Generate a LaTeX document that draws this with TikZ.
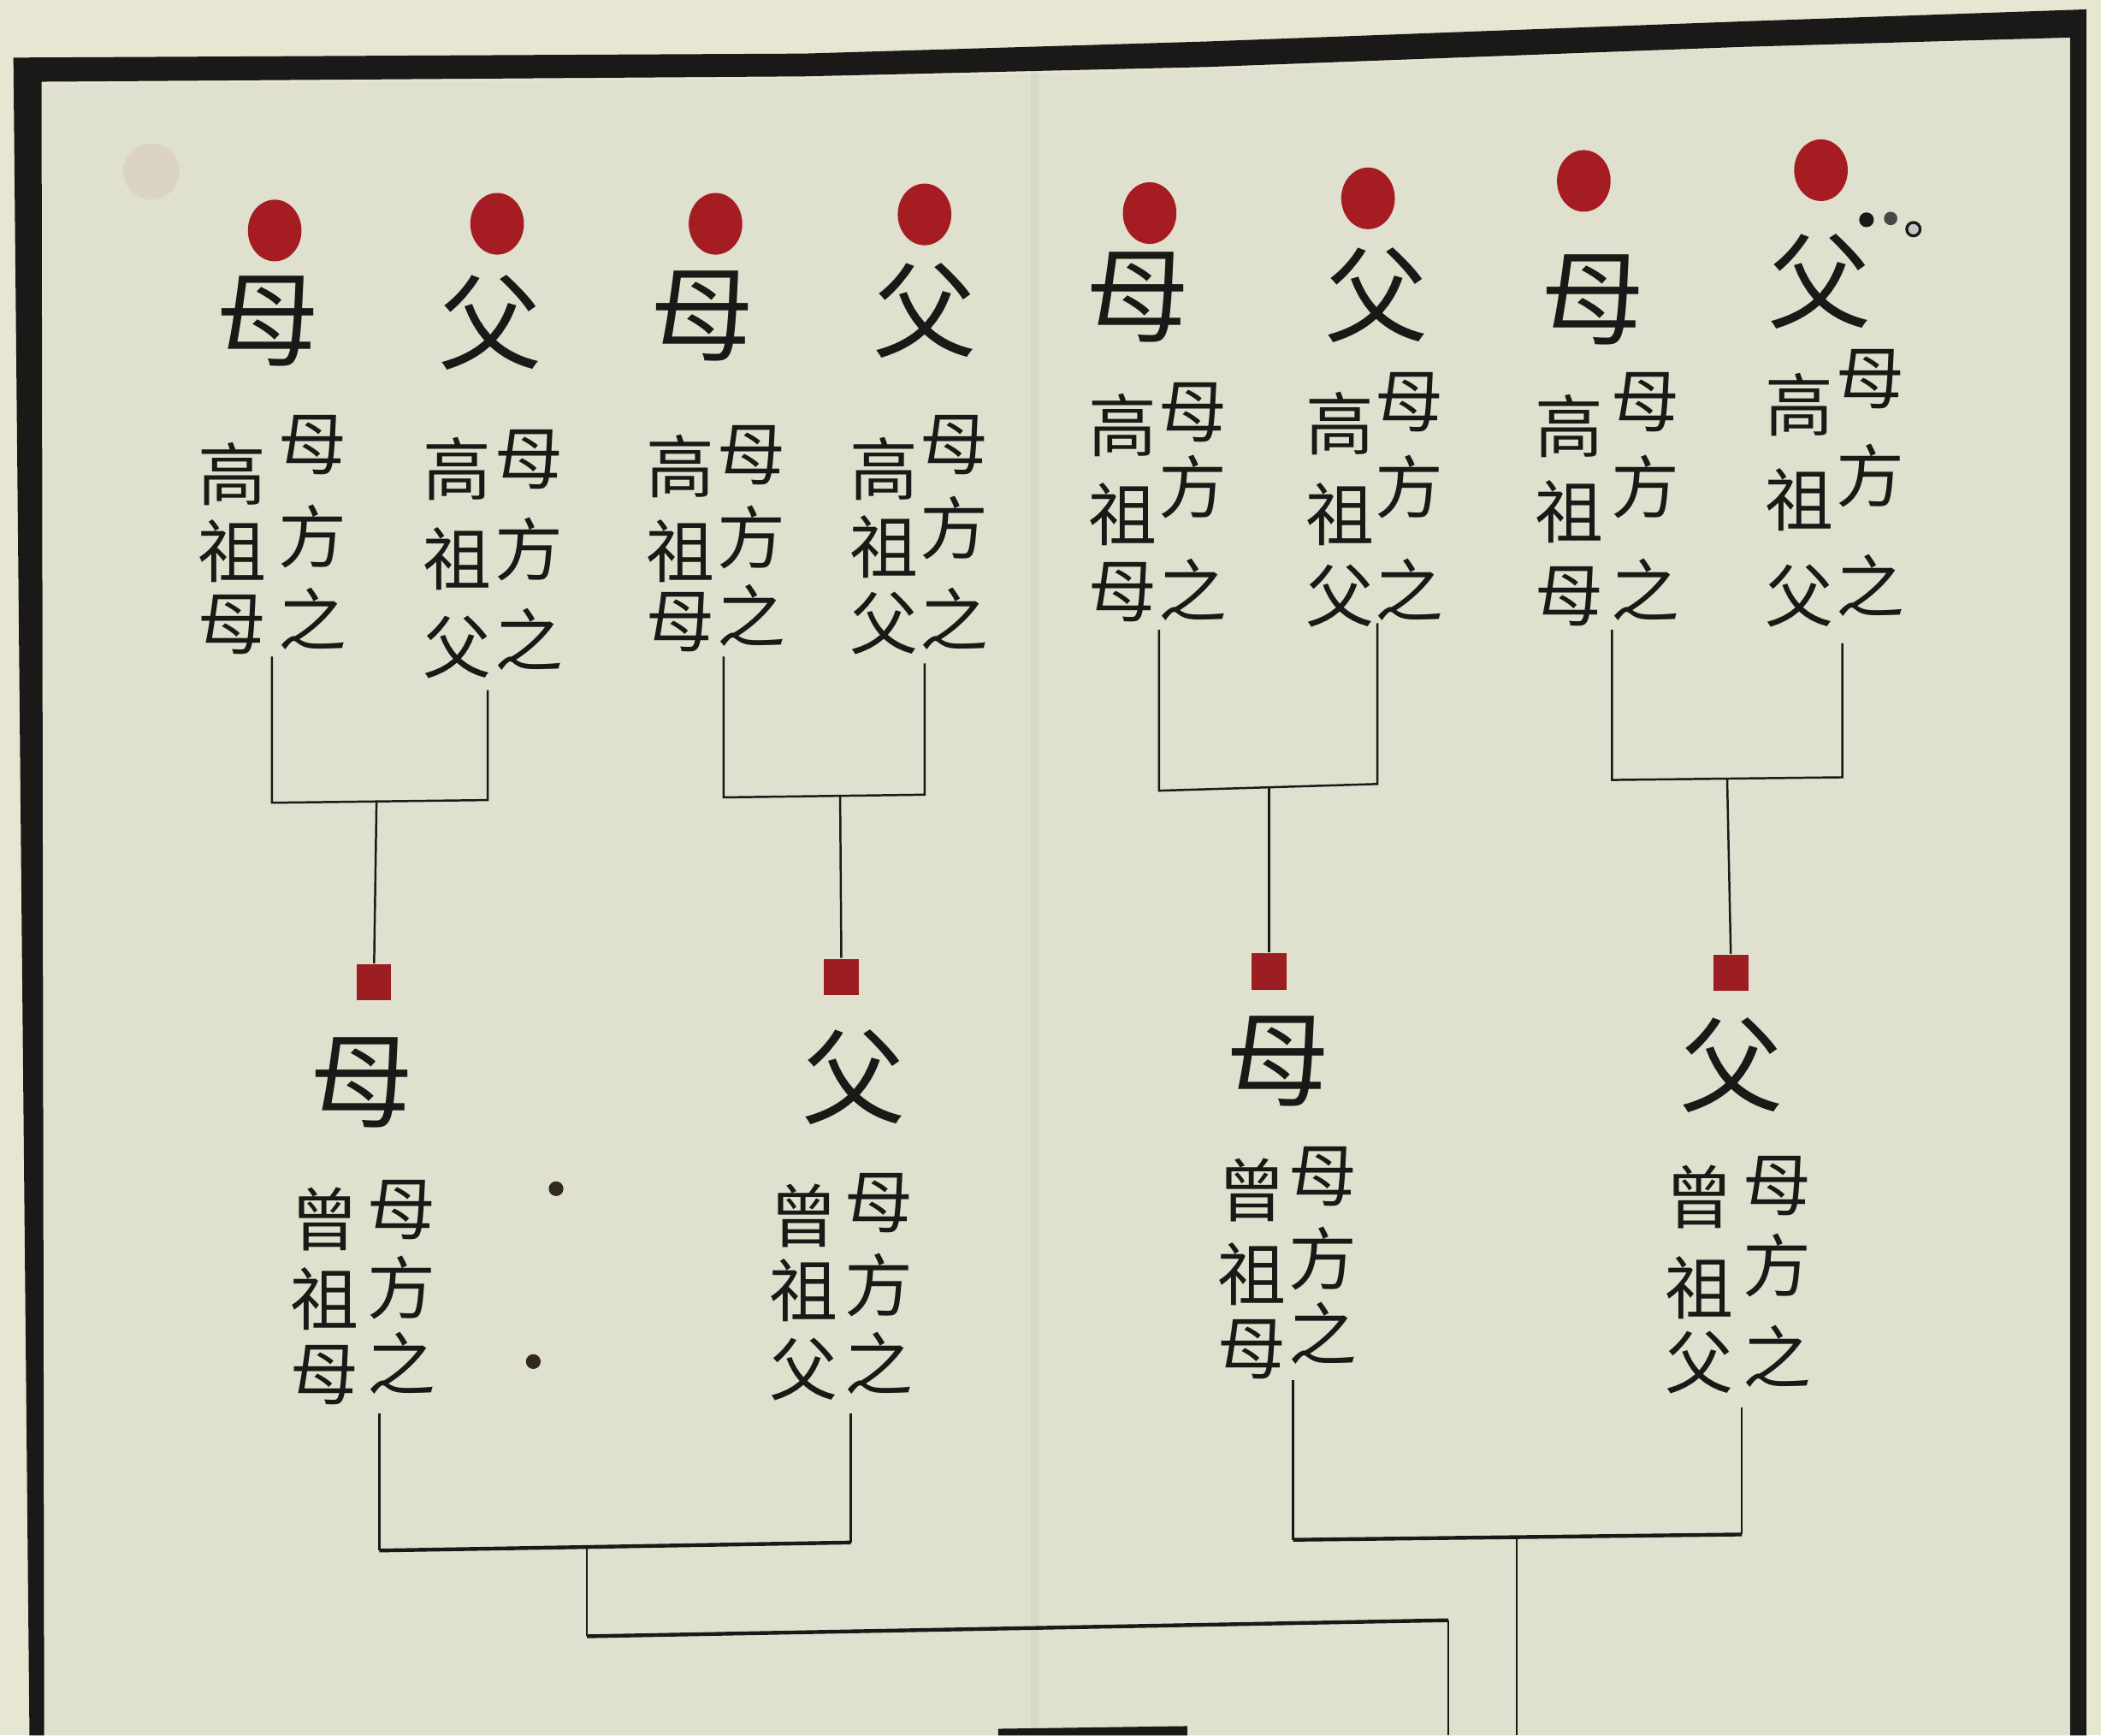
\documentclass[tikz,border=0pt]{standalone}
\usepackage{fontspec}
\newfontfamily\cjk{Noto Sans CJK TC}
\usetikzlibrary{shapes.geometric}
\definecolor{outerpaper}{HTML}{E7E6D2}
\definecolor{innerpaper}{HTML}{DFE0CD}
\definecolor{ink}{HTML}{1A1917}
\definecolor{vermilion}{HTML}{A51D22}
\definecolor{squarered}{HTML}{9C1E22}
\tikzset{
  bigchar/.style={font=\cjk\fontsize{22}{22}\selectfont, text=ink, inner sep=0pt},
  smallchar/.style={font=\cjk\fontsize{14.5}{15}\selectfont, text=ink, inner sep=0pt},
  reddot/.style={ellipse, fill=vermilion, minimum width=4.0mm, minimum height=4.6mm, inner sep=0pt},
  redsq/.style={rectangle, fill=squarered, minimum width=2.6mm, minimum height=2.7mm, inner sep=0pt},
  thinline/.style={draw=ink, line width=0.45pt},
  barline/.style={draw=ink, line width=0.8pt},
  inkdot/.style={circle, fill=ink!85!brown, minimum size=1.1mm, inner sep=0pt},
}
% name, x, y1, y2, y3, c1, c2, c3
\newcommand\vcol[8]{%
  \node[smallchar] (#1a) at (#2,#3) {#6};
  \node[smallchar] (#1b) at (#2,#4) {#7};
  \node[smallchar] (#1c) at (#2,#5) {#8};}
\begin{document}
\begin{tikzpicture}[x=0.1mm,y=-0.1mm]
\useasboundingbox (0,0) rectangle (1568,1295);
% paper
\fill[outerpaper] (0,0) rectangle (1568,1295);
\fill[innerpaper] (32,63) -- (600,59) -- (900,52) -- (1300,36) -- (1544,28) -- (1544,1295) -- (34,1295) -- cycle;
% fold line and faint seal
\draw[ink, opacity=0.04, line width=0.6mm] (772,50) -- (772,1295);
\fill[vermilion, opacity=0.06] (113,128) circle [radius=21];
% frame
\fill[ink] (10,43) -- (600,40) -- (900,31) -- (1300,16) -- (1557,7) -- (1557,1295) -- (1545,1295)
  -- (1545,28) -- (1300,35) -- (900,50) -- (600,57) -- (31,61) -- (33,1295) -- (22,1295) -- cycle;

% ---------- top row: great-great-grandparents ----------
\node[reddot] (d1) at (205,172) {};
\node[reddot] (d2) at (371,167) {};
\node[reddot] (d3) at (534,167) {};
\node[reddot] (d4) at (690,160) {};
\node[reddot] (d5) at (858,159) {};
\node[reddot] (d6) at (1021,148) {};
\node[reddot] (d7) at (1182,135) {};
\node[reddot] (d8) at (1359,127) {};

\node[bigchar] (b1) at (200,240) {母};
\node[bigchar] (b2) at (366,241) {父};
\node[bigchar] (b3) at (524,236) {母};
\node[bigchar] (b4) at (690,232) {父};
\node[bigchar] (b5) at (849,222) {母};
\node[bigchar] (b6) at (1027,220) {父};
\node[bigchar] (b7) at (1189,224) {母};
\node[bigchar] (b8) at (1358,210) {父};

% small marks beside the last 父
\node[circle, fill=ink, minimum size=1.1mm, inner sep=0pt] (m1) at (1393,164) {};
\node[circle, fill=ink!80, minimum size=1.0mm, inner sep=0pt] (m2) at (1411,163) {};
\node[circle, draw=ink, line width=0.6pt, fill=ink!25, minimum size=1.0mm, inner sep=0pt] (m3) at (1428,171) {};

\vcol{r1}{233}{332}{400}{462}{母}{方}{之}
\vcol{l1}{173}{354}{411}{466}{高}{祖}{母}
\vcol{r2}{395}{343}{410}{477}{母}{方}{之}
\vcol{l2}{341}{350}{417}{483}{高}{祖}{父}
\vcol{r3}{561}{340}{401}{459}{母}{方}{之}
\vcol{l3}{508}{348}{411}{464}{高}{祖}{母}
\vcol{r4}{712}{332}{394}{462}{母}{方}{之}
\vcol{l4}{660}{350}{408}{465}{高}{祖}{父}
\vcol{r5}{890}{308}{363}{440}{母}{方}{之}
\vcol{l5}{838}{317}{384}{442}{高}{祖}{母}
\vcol{r6}{1052}{300}{363}{440}{母}{方}{之}
\vcol{l6}{1000}{316}{384}{445}{高}{祖}{父}
\vcol{r7}{1228}{300}{363}{440}{母}{方}{之}
\vcol{l7}{1171}{318}{382}{445}{高}{祖}{母}
\vcol{r8}{1396}{283}{355}{437}{母}{方}{之}
\vcol{l8}{1343}{302}{373}{445}{高}{祖}{父}

% ---------- second row: great-grandparents ----------
\node[redsq] (s1) at (279,733) {};
\node[redsq] (s2) at (628,729) {};
\node[redsq] (s3) at (947,725) {};
\node[redsq] (s4) at (1292,726) {};

\node[bigchar] (e1) at (270,808) {母};
\node[bigchar] (e2) at (637,804) {父};
\node[bigchar] (e3) at (954,792) {母};
\node[bigchar] (e4) at (1292,795) {父};

\vcol{rA}{300}{903}{961}{1017}{母}{方}{之}
\vcol{lA}{242}{910}{969}{1026}{曾}{祖}{母}
\vcol{rB}{656}{898}{959}{1017}{母}{方}{之}
\vcol{lB}{600}{907}{963}{1022}{曾}{祖}{父}
\vcol{rC}{987}{878}{939}{995}{母}{方}{之}
\vcol{lC}{934}{888}{951}{1007}{曾}{祖}{母}
\vcol{rD}{1326}{885}{944}{1012}{母}{方}{之}
\vcol{lD}{1268}{893}{961}{1017}{曾}{祖}{父}

\node[inkdot] (k1) at (415,887) {};
\node[inkdot] (k2) at (398,1016) {};

% ---------- top-row brackets ----------
\coordinate (p1L) at (203,490); \coordinate (p1Lb) at (203,599);
\coordinate (p1R) at (364,515); \coordinate (p1Rb) at (364,597);
\coordinate (p1m) at (281,598);
\coordinate (p2L) at (540,490); \coordinate (p2Lb) at (540,595);
\coordinate (p2R) at (690,495); \coordinate (p2Rb) at (690,593);
\coordinate (p2m) at (627,594);
\coordinate (p3L) at (865,470); \coordinate (p3Lb) at (865,590);
\coordinate (p3R) at (1028,465); \coordinate (p3Rb) at (1028,585);
\coordinate (p3m) at (947,588);
\coordinate (p4L) at (1203,470); \coordinate (p4Lb) at (1203,582);
\coordinate (p4R) at (1375,480); \coordinate (p4Rb) at (1375,580);
\coordinate (p4m) at (1289,581);
\foreach \k in {1,2,3,4}{
  \draw[thinline] (p\k L) -- (p\k Lb) -- (p\k Rb) -- (p\k R);
  \draw[thinline] (p\k m) -- (s\k);
}

% ---------- bottom brackets ----------
\coordinate (qAL) at (283,1055); \coordinate (qALb) at (283,1157);
\coordinate (qAR) at (635,1055); \coordinate (qARb) at (635,1151);
\coordinate (qAm) at (438,1155); \coordinate (qAt) at (438,1221);
\coordinate (qAu) at (1081,1209); \coordinate (qAend) at (1081,1295);
\coordinate (qBL) at (965,1030); \coordinate (qBLb) at (965,1149);
\coordinate (qBR) at (1300,1050); \coordinate (qBRb) at (1300,1145);
\coordinate (qBm) at (1132,1147); \coordinate (qBend) at (1132,1295);

\draw[thinline] (qAL) -- (qALb);
\draw[thinline] (qAR) -- (qARb);
\draw[barline] (qALb) -- (qARb);
\draw[thinline] (qAm) -- (qAt);
\draw[barline] (qAt) -- (qAu);
\draw[thinline] (qAu) -- (qAend);

\draw[thinline] (qBL) -- (qBLb);
\draw[thinline] (qBR) -- (qBRb);
\draw[barline] (qBLb) -- (qBRb);
\draw[thinline] (qBm) -- (qBend);

% heavy stroke at the lower edge
\fill[ink] (745,1290) -- (886,1288) -- (886,1295) -- (745,1295) -- cycle;
\end{tikzpicture}
\end{document}
